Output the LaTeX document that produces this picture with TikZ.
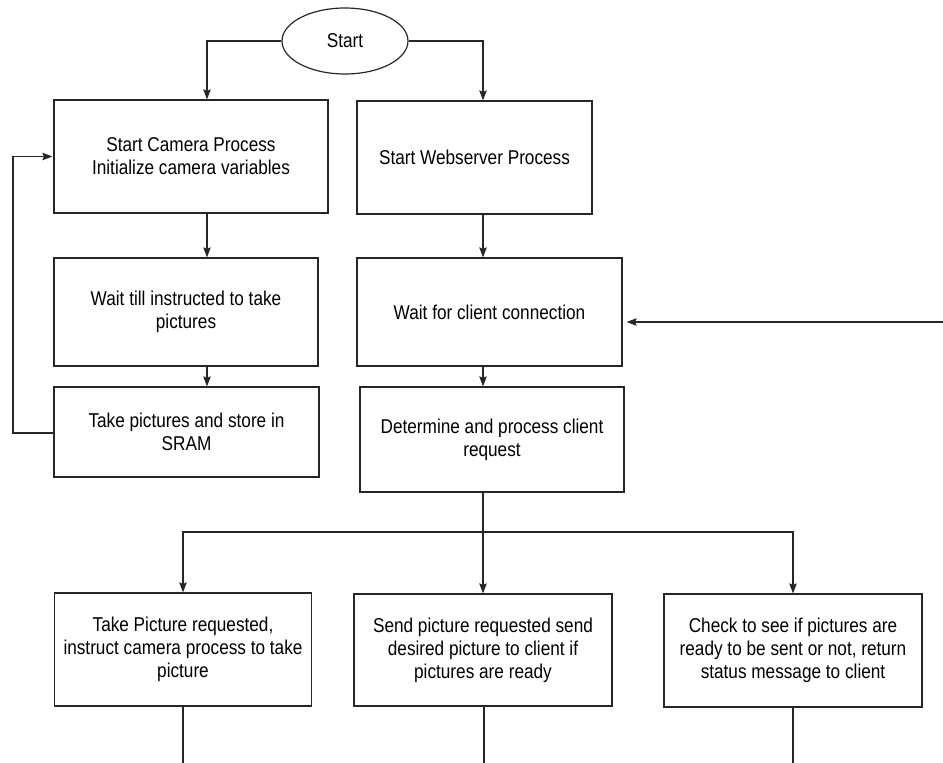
\documentclass[tikz,border=0pt]{standalone}
\usepackage{fontspec}
\setmainfont{Liberation Sans}[FakeStretch=0.86]
\usetikzlibrary{shapes.geometric,arrows.meta}

\begin{document}
\begin{tikzpicture}[x=1pt,y=-1pt,
  line width=1.2pt,
  arr/.style={draw=black!85,-{Stealth[length=10pt,width=7.5pt,inset=1.5pt]}},
  link/.style={draw=black!85},
  stepbox/.style={draw=black!85,rectangle,inner sep=2pt,align=center,
    font=\fontsize{20}{23}\selectfont},
  oval/.style={draw=black!85,ellipse,inner sep=0pt,
    font=\fontsize{20}{23}\selectfont}]

\useasboundingbox (0,0) rectangle (943,763);

% start terminal
\node[oval,minimum width=126pt,minimum height=66pt] (start) at (345,41) {Start};

% camera process column
\node[stepbox,minimum width=274pt,minimum height=113pt] (cam) at (191,156.5)
  {Start Camera Process\\Initialize camera variables};
\node[stepbox,minimum width=264pt,minimum height=108pt] (waitpic) at (186,312)
  {Wait till instructed to take\\pictures};
\node[stepbox,minimum width=265pt,minimum height=90pt] (take) at (186.5,432)
  {Take pictures and store in\\SRAM};

% webserver column
\node[stepbox,minimum width=235pt,minimum height=113pt] (web) at (474.5,157.5)
  {Start Webserver Process};
\node[stepbox,minimum width=265pt,minimum height=108pt] (waitcli) at (489.5,312)
  {Wait for client connection};
\node[stepbox,minimum width=264pt,minimum height=105pt] (det) at (492,439.5)
  {Determine and process client\\request};

% request handlers
\node[stepbox,minimum width=257pt,minimum height=113pt] (reqA) at (183,649.5)
  {Take Picture requested,\\instruct camera process to take\\picture};
\node[stepbox,minimum width=258pt,minimum height=112pt] (reqB) at (483,650)
  {Send picture requested send\\desired picture to client if\\pictures are ready};
\node[stepbox,minimum width=258pt,minimum height=113pt] (reqC) at (793,650.5)
  {Check to see if pictures are\\ready to be sent or not, return\\status message to client};

% helper points
\coordinate (camx) at (207,0);
\coordinate (webx) at (483,0);
\coordinate (loop) at (13,0);
\coordinate (ext) at (943,322);
\coordinate (split) at (483,532);
\coordinate (tailA) at (183,763);
\coordinate (tailB) at (484,763);
\coordinate (tailC) at (793,763);

% start branches
\draw[arr] (start.west) -| (camx |- cam.north);
\draw[arr] (start.east) -| (webx |- web.north);

% camera flow
\draw[arr] (camx |- cam.south) -- (camx |- waitpic.north);
\draw[arr] (camx |- waitpic.south) -- (camx |- take.north);
\draw[arr] ([yshift=-1pt]take.west) -| (loop |- cam.west) -- ([xshift=-1pt]cam.west);

% webserver flow
\draw[arr] (webx |- web.south) -- (webx |- waitcli.north);
\draw[arr] (webx |- waitcli.south) -- (webx |- det.north);
\draw[arr,shorten >=4pt] (ext) -- (waitcli.east |- ext);

% request dispatch
\draw[link] (split |- det.south) -- (split);
\draw[arr] (split) -- (reqB.north);
\draw[arr] (split) -| (reqA.north);
\draw[arr] (split) -| (reqC.north);

% continuing lines
\draw[link] (reqA.south) -- (tailA);
\draw[link] (tailB |- reqB.south) -- (tailB);
\draw[link] (reqC.south) -- (tailC);

\end{tikzpicture}
\end{document}
